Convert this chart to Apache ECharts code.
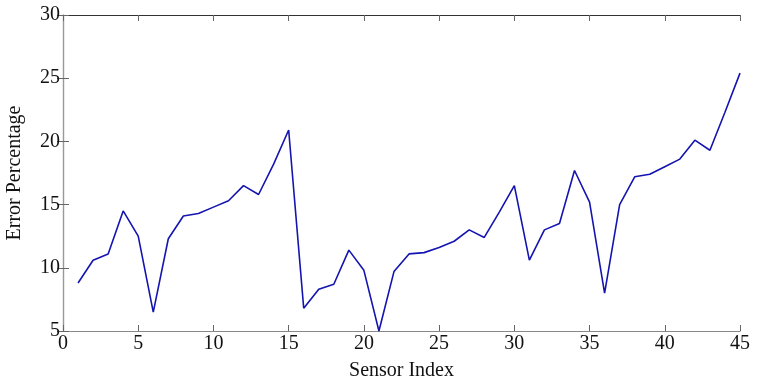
<!DOCTYPE html>
<html><head><meta charset="utf-8">
<script src="https://cdn.jsdelivr.net/npm/echarts@6/dist/echarts.min.js"></script>
<style>html,body{margin:0;padding:0;background:#fff}#c{width:757px;height:390px}</style>
</head><body><div id="c"></div>
<script>
const sensorIndex = [1,2,3,4,5,6,7,8,9,10,11,12,13,14,15,16,17,18,19,20,21,22,23,24,25,26,27,28,29,30,31,32,33,34,35,36,37,38,39,40,41,42,43,44,45];
const errorPct = [8.8,10.6,11.1,14.5,12.5,6.5,12.3,14.1,14.3,14.8,15.3,16.5,15.8,18.2,20.9,6.8,8.3,8.7,11.4,9.8,5.0,9.7,11.1,11.2,11.6,12.1,13.0,12.4,14.4,16.5,10.6,13.0,13.5,17.7,15.2,8.0,15.0,17.2,17.4,18.0,18.6,20.1,19.3,22.3,25.4];
const xTicks = [0,5,10,15,20,25,30,35,40,45];
const yTicks = [5,10,15,20,25,30];

const font = 'Liberation Serif';
const chart = echarts.init(document.getElementById('c'), null, {renderer:'canvas'});
chart.setOption({
  animation:false,
  grid:{left:63,right:17,top:15,bottom:59,containLabel:false,outerBoundsMode:'none'},
  xAxis:[{
    type:'value',min:0,max:45,interval:5,position:'bottom',
    name:'Sensor Index',nameLocation:'middle',nameGap:30,
    nameTextStyle:{fontFamily:font,fontSize:20,color:'#111'},
    axisLine:{show:true,lineStyle:{color:'#888',width:1.2}},
    axisTick:{show:true,inside:true,length:6,lineStyle:{color:'#666'}},
    axisLabel:{fontFamily:font,fontSize:20,color:'#111',margin:3,
      formatter:v=>xTicks.includes(v)?String(v):''},
    splitLine:{show:false}
  },{
    type:'value',min:0,max:45,interval:5,position:'top',
    axisLine:{show:true,lineStyle:{color:'#333',width:1.2}},
    axisTick:{show:true,inside:true,length:6,lineStyle:{color:'#666'}},
    axisLabel:{show:false},splitLine:{show:false}
  }],
  yAxis:[{
    type:'value',min:5,max:30,interval:5,position:'left',
    name:'Error Percentage',nameLocation:'middle',nameGap:38,
    nameTextStyle:{fontFamily:font,fontSize:20,color:'#111'},
    axisLine:{show:true,lineStyle:{color:'#888',width:1.2}},
    axisTick:{show:true,inside:true,length:6,lineStyle:{color:'#666'}},
    axisLabel:{fontFamily:font,fontSize:20,color:'#111',margin:3,
      formatter:v=>yTicks.includes(v)?String(v):''},
    splitLine:{show:false}
  },{
    type:'value',min:5,max:30,interval:5,position:'right',
    axisLine:{show:true,lineStyle:{color:'#999',width:1.2}},
    axisTick:{show:true,inside:true,length:6,lineStyle:{color:'#666'}},
    axisLabel:{show:false},splitLine:{show:false}
  }],
  series:[{
    type:'line',xAxisIndex:0,yAxisIndex:0,
    data:sensorIndex.map((x,i)=>[x,errorPct[i]]),
    showSymbol:false,symbol:'none',
    lineStyle:{color:'#1414b0',width:1.6}
  }]
});
</script></body></html>
